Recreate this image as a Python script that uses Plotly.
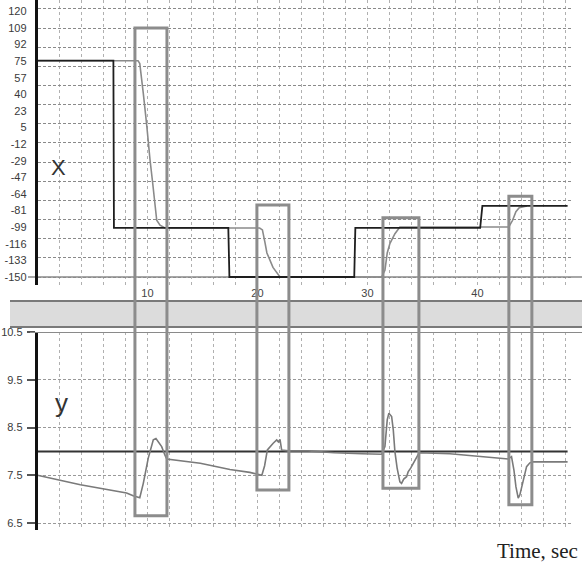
import plotly.graph_objects as go

W, H = 582, 562

# ---------------- data ----------------
# upper panel (X)
x_tick_labels = ["-150", "-133", "-116", "-99", "-81", "-64", "-47", "-29", "-12",
                 "5", "23", "40", "57", "75", "92", "109", "120"]
x_set_t = [0, 6.9, 6.95, 17.35, 17.45, 28.8, 28.9, 40.25, 40.45, 48.2]
x_set_v = [75, 75, -99, -99, -150, -150, -99, -99, -76, -76]
x_resp_t = [0, 9.14, 9.3, 9.47, 9.62, 9.93, 10.07, 10.23, 10.47, 10.68, 10.84, 11.14, 11.59,
            20.2, 20.45, 20.68, 20.86, 21.41, 22.05,
            31.29, 31.59, 31.8, 32.05, 32.5, 32.95,
            42.85, 43.2, 43.5, 43.8, 44.5]
x_resp_v = [75, 75, 72, 58, 41, 8, -10, -28, -52, -77, -91, -96, -99,
            -99, -101, -114, -125, -140, -150,
            -150, -143, -125, -115, -105, -98,
            -98, -91, -82, -78, -76]

# lower panel (y)
y_tick_labels = ["6.5", "7.5", "8.5", "9.5", "10.5"]
y_tick_vals = [6.5, 7.5, 8.5, 9.5, 10.5]
y_set_t = [0, 48.2]
y_set_v = [8.0, 8.0]
y_resp_t = [0, 3.9, 8.1, 8.7, 9.3, 9.62, 10.07, 10.53, 10.77, 11.29, 11.59, 11.75,
            14.8, 17.5, 19.3, 20.05, 20.4, 20.65, 20.9, 21.43, 21.75, 21.9, 22.05, 22.2, 22.8,
            24.6, 27.0, 29.5, 31.1, 31.29, 31.59, 31.8, 31.95, 32.2, 32.35, 32.5, 32.7, 32.95,
            33.1, 33.3, 33.56, 33.7, 33.93, 34.16, 34.47, 34.7,
            37.5, 41.1, 42.8, 43.1, 43.32, 43.5, 43.71, 43.86, 44.02, 44.23, 44.47, 44.77,
            45.07, 48.2]
y_resp_v = [7.50, 7.30, 7.13, 7.07, 7.03, 7.33, 7.86, 8.24, 8.27, 8.10, 7.92, 7.84,
            7.75, 7.62, 7.56, 7.52, 7.50, 7.70, 8.03, 8.17, 8.24, 8.20, 8.25, 8.03, 8.01,
            8.01, 7.97, 7.95, 7.93, 7.94, 8.10, 8.66, 8.80, 8.73, 8.45, 7.99, 7.65, 7.36,
            7.33, 7.42, 7.47, 7.57, 7.65, 7.75, 7.88, 7.97,
            7.95, 7.88, 7.84, 7.89, 7.61, 7.26, 7.02, 7.09, 7.26, 7.47, 7.68, 7.76,
            7.78, 7.78]

time_tick_labels = ["10", "20", "30", "40"]

# highlighted windows: time span, top (X units), bottom (y units)
win_t0 = [8.86, 19.95, 31.41, 42.86]
win_t1 = [11.77, 22.86, 34.68, 44.95]
win_top_x = [109, -75, -88.5, -66]
win_bot_y = [6.65, 7.19, 7.23, 6.88]

# ---------------- geometry ----------------
def px_x(p):
    return p / W

def px_y(p):
    return 1 - p / H

t_max = 48.6
xdom = [px_x(37.5), px_x(572)]

top_scale = 249 / 259.0          # px per unit
top_min = -150 - 8 / top_scale
top_max = top_min + 285 / top_scale
top_dom = [px_y(285), 1.0]

bot_scale = 191 / 4.0
bot_min = 6.5 - 7 / bot_scale
bot_max = 10.5
bot_dom = [px_y(530), px_y(332)]

top_tick_vals = [-150 + k * 259 / 15.0 for k in range(len(x_tick_labels))]

def top_to_paper(v):
    return top_dom[0] + (v - top_min) / (top_max - top_min) * (top_dom[1] - top_dom[0])

def bot_to_paper(v):
    return bot_dom[0] + (v - bot_min) / (bot_max - bot_min) * (bot_dom[1] - bot_dom[0])

grid_t = list(range(2, 49, 2))
grid_text = [str(v) if str(v) in time_tick_labels else "" for v in grid_t]

tick_font = dict(family="Liberation Sans Narrow, Arial Narrow, Liberation Sans", size=11, color="#3a3a3a")

fig = go.Figure()

fig.add_trace(go.Scatter(x=x_resp_t, y=x_resp_v, mode="lines",
                         line=dict(color="#8a8a8a", width=1.6), xaxis="x", yaxis="y",
                         hoverinfo="skip", showlegend=False))
fig.add_trace(go.Scatter(x=x_set_t, y=x_set_v, mode="lines",
                         line=dict(color="#1e1e1e", width=1.8), xaxis="x", yaxis="y",
                         hoverinfo="skip", showlegend=False))
fig.add_trace(go.Scatter(x=[None], y=[None], mode="lines", xaxis="x", yaxis="y3",
                         hoverinfo="skip", showlegend=False))
fig.add_trace(go.Scatter(x=y_set_t, y=y_set_v, mode="lines",
                         line=dict(color="#333333", width=2), xaxis="x2", yaxis="y2",
                         hoverinfo="skip", showlegend=False))
fig.add_trace(go.Scatter(x=y_resp_t, y=y_resp_v, mode="lines",
                         line=dict(color="#7a7a7a", width=1.6), xaxis="x2", yaxis="y2",
                         hoverinfo="skip", showlegend=False))

shapes = []
# separator band
shapes.append(dict(type="rect", xref="paper", yref="paper", x0=px_x(10), x1=1,
                   y0=px_y(327), y1=px_y(301), fillcolor="#dcdcdc", line=dict(width=0), layer="below"))
shapes.append(dict(type="line", xref="paper", yref="paper", x0=px_x(10), x1=1,
                   y0=px_y(301), y1=px_y(301), line=dict(color="#7a7a7a", width=2)))
shapes.append(dict(type="line", xref="paper", yref="paper", x0=px_x(10), x1=1,
                   y0=px_y(327), y1=px_y(327), line=dict(color="#7a7a7a", width=2)))
# top line of lower panel (10.5)
shapes.append(dict(type="line", xref="paper", yref="y2", x0=px_x(30), x1=1,
                   y0=10.5, y1=10.5, line=dict(color="#8a8a8a", width=2)))
# baseline of upper panel (-150)
shapes.append(dict(type="line", xref="paper", yref="y", x0=px_x(28), x1=1,
                   y0=-150, y1=-150, line=dict(color="#8a8a8a", width=1.5), layer="below"))
# windows
for a, b, tp, bt in zip(win_t0, win_t1, win_top_x, win_bot_y):
    shapes.append(dict(type="rect", xref="x", yref="paper", x0=a, x1=b,
                       y0=bot_to_paper(bt), y1=top_to_paper(tp),
                       line=dict(color="#8c8c8c", width=3), fillcolor="rgba(0,0,0,0)"))

annotations = [
    dict(text="X", x=px_x(58), y=px_y(168), xref="paper", yref="paper", showarrow=False,
         xanchor="center", yanchor="middle",
         font=dict(family="Liberation Sans Narrow, Liberation Sans", size=22, color="#333333")),
    dict(text="y", x=px_x(61), y=px_y(403), xref="paper", yref="paper", showarrow=False,
         xanchor="center", yanchor="middle",
         font=dict(family="Liberation Sans Narrow, Liberation Sans", size=26, color="#333333")),
    dict(text="Time, sec", x=px_x(580), y=px_y(551), xref="paper", yref="paper", showarrow=False,
         xanchor="right", yanchor="middle",
         font=dict(family="Liberation Serif, Times New Roman, serif", size=21, color="#222222")),
]

grid_x = dict(showgrid=True, gridcolor="#b0b0b0", griddash="3px,3px", gridwidth=1)

fig.update_layout(
    width=W, height=H,
    margin=dict(l=0, r=0, t=0, b=0),
    paper_bgcolor="white", plot_bgcolor="white",
    showlegend=False, hovermode=False,
    xaxis=dict(domain=xdom, range=[0, t_max], anchor="y", tickvals=grid_t, ticktext=grid_text,
               ticks="", showline=False, zeroline=False, automargin=False,
               tickfont=dict(family="Liberation Sans Narrow, Liberation Sans", size=11, color="#444444"),
               **grid_x),
    yaxis=dict(domain=top_dom, range=[top_min, top_max], anchor="x",
               tickvals=top_tick_vals, ticktext=x_tick_labels, ticks="", showgrid=False,
               zeroline=False, showline=True, linecolor="#111111", linewidth=2.5,
               ticklabelstandoff=6, tickfont=tick_font, automargin=False),
    yaxis3=dict(overlaying="y", range=[top_min, top_max], anchor="x", tick0=-150, dtick=259 / 13.0,
                showticklabels=False, ticks="", showgrid=True, gridcolor="#8a8a8a",
                griddash="3px,2px", gridwidth=1.2, zeroline=False, showline=False, automargin=False),
    xaxis2=dict(domain=xdom, range=[0, t_max], anchor="y2", tickvals=grid_t,
                showticklabels=False, ticks="", showline=False, zeroline=False, automargin=False,
                **grid_x),
    yaxis2=dict(domain=bot_dom, range=[bot_min, bot_max], anchor="x2",
                tickvals=y_tick_vals, ticktext=y_tick_labels, ticks="outside", ticklen=8,
                tickcolor="#555555", tickwidth=1.5, showgrid=True, gridcolor="#999999",
                griddash="3px,2px", gridwidth=1.2, zeroline=False, showline=True,
                linecolor="#111111", linewidth=2.5, ticklabelstandoff=2,
                tickfont=tick_font, automargin=False),
    shapes=shapes,
    annotations=annotations,
)

fig.write_html("out.html", config={"displayModeBar": False},
               post_script="document.body.style.margin='0';document.body.style.padding='0';")
